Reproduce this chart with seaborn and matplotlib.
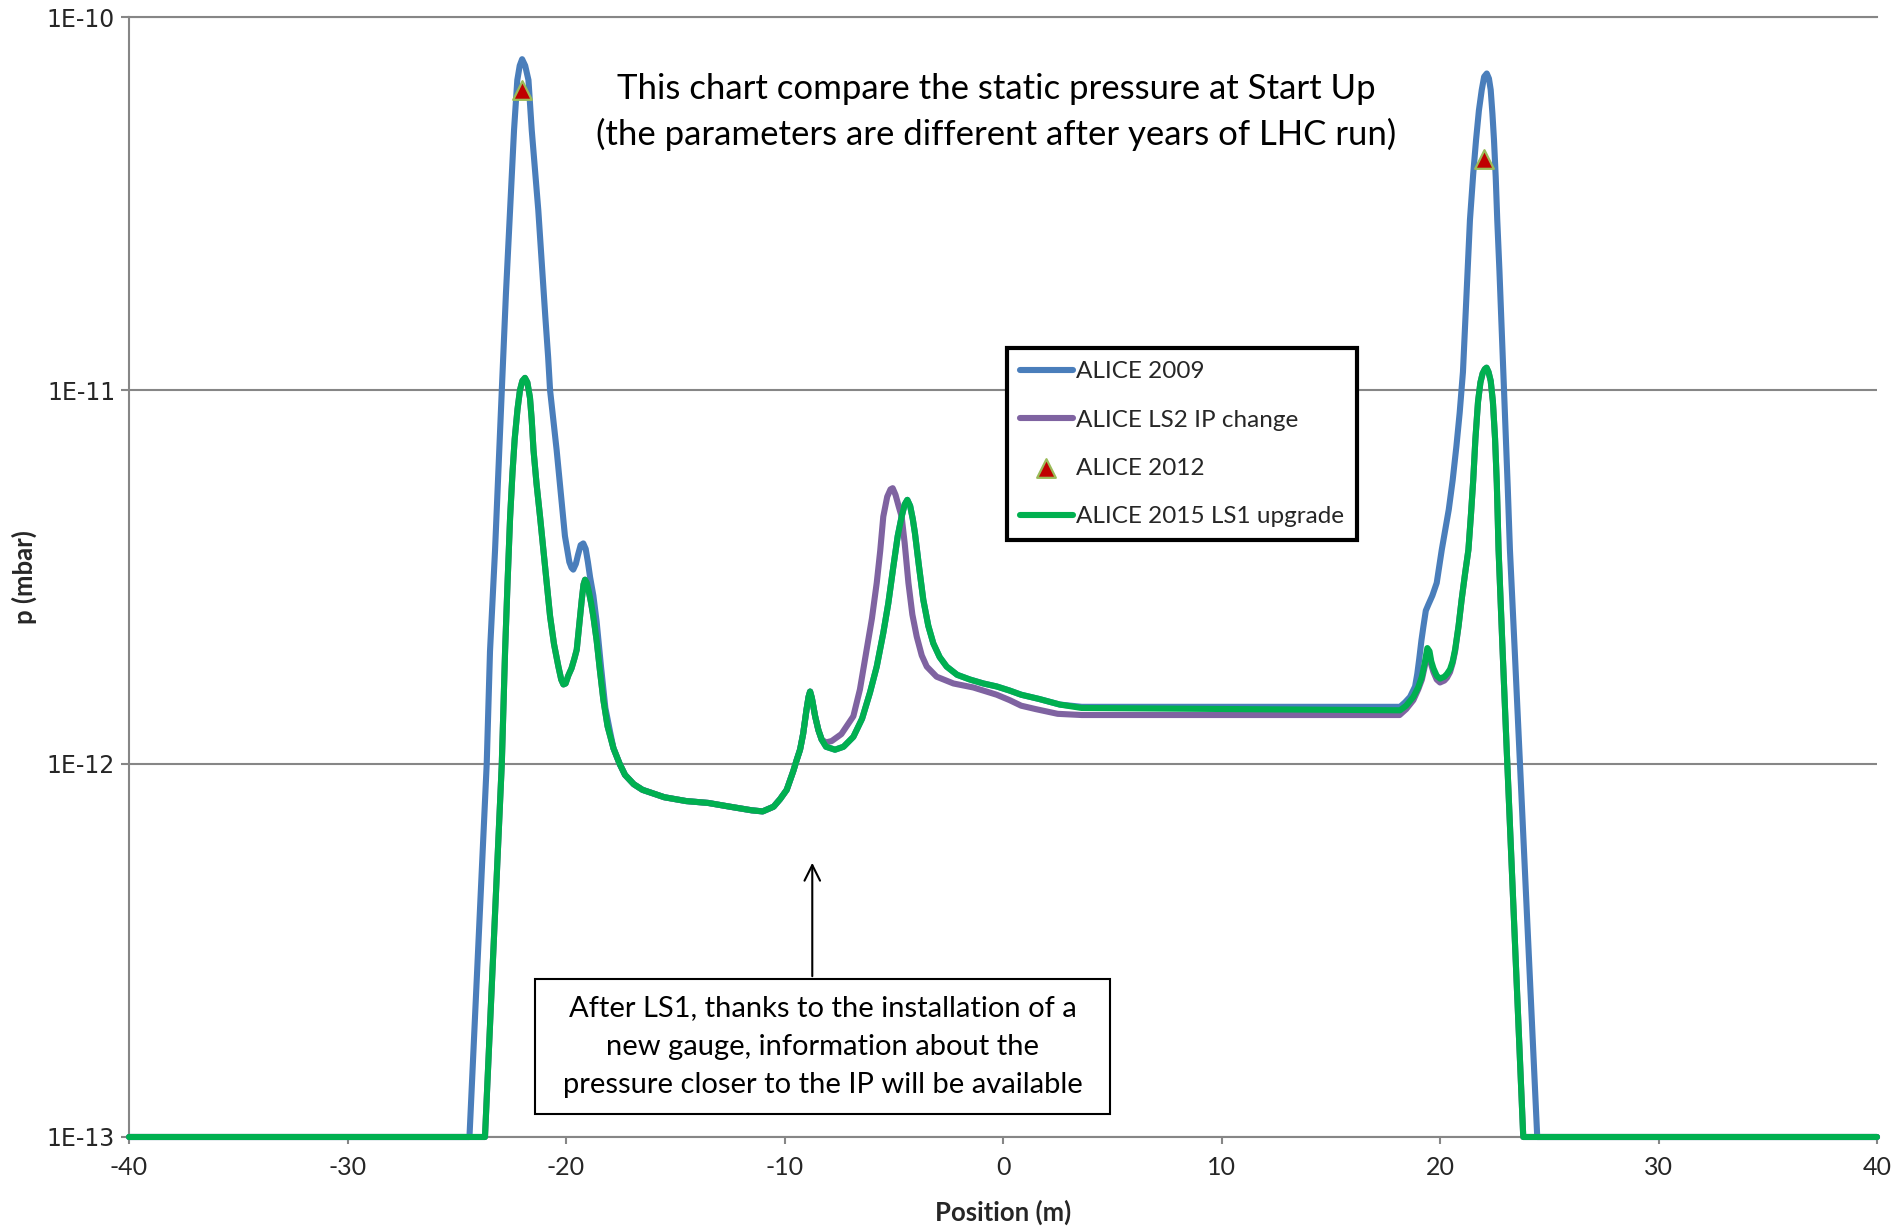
import numpy as np
import pandas as pd
import matplotlib
matplotlib.use('Agg')
import matplotlib.pyplot as plt
import seaborn as sns
from matplotlib.patches import Rectangle

sns.set_theme(style='white')
plt.rcParams['font.family'] = ['Lato', 'DejaVu Sans']
plt.rcParams['axes.unicode_minus'] = False

# ALICE 2009 (blue)
x_2009 = [-40, -24.42, -23.63, -23.48, -23.25, -23.1, -22.94, -22.75, -22.56, -22.45,
          -22.38, -22.3, -22.23, -22.12, -22.01, -21.87, -21.72, -21.65, -21.57, -21.42,
          -21.27, -21.1, -20.95, -20.82, -20.73, -20.6, -20.43, -20.25, -20.05, -19.85,
          -19.75, -19.67, -19.55, -19.45, -19.33, -19.21, -19.1, -19.0, -18.9, -18.75,
          -18.6, -18.4, -18.2, -18.0, -17.83, -17.55, -17.3, -16.9, -16.5, -15.5,
          -14.5, -13.5, -12.5, -11.5, -11.0, -10.5, -10.2, -9.9, -9.6, -9.45,
          -9.29, -9.15, -8.99, -8.9, -8.83, -8.75, -8.6, -8.45, -8.3, -8.1,
          -7.69, -7.3, -6.85, -6.45, -6.09, -5.78, -5.48, -5.25, -5.02, -4.82,
          -4.64, -4.5, -4.38, -4.25, -4.13, -4.03, -3.85, -3.65, -3.42, -3.19,
          -2.9, -2.58, -2.1, -1.51, -0.9, -0.29, 0.3, 0.83, 1.66, 2.6,
          3.6, 18.17, 18.4, 18.63, 18.86, 18.96, 19.05, 19.15, 19.24, 19.35,
          19.47, 19.65, 19.85, 20.08, 20.25, 20.4, 20.58, 20.75, 20.9, 21.05,
          21.2, 21.37, 21.52, 21.65, 21.78, 21.91, 22.02, 22.14, 22.24, 22.32,
          22.4, 22.47, 22.55, 22.62, 22.72, 22.8, 22.9, 23.0, 23.1, 23.2,
          23.43, 23.66, 24.45, 40]
p_2009 = [1e-13, 1e-13, 1e-12, 2.00e-12, 3.72e-12, 6.03e-12, 1e-11, 1.82e-11, 3.04e-11, 4.07e-11,
          4.98e-11, 5.89e-11, 6.78e-11, 7.41e-11, 7.71e-11, 7.41e-11, 6.78e-11, 5.89e-11, 4.98e-11, 3.89e-11,
          3.04e-11, 2.14e-11, 1.58e-11, 1.23e-11, 1e-11, 8.51e-12, 6.92e-12, 5.37e-12, 4.07e-12, 3.47e-12,
          3.35e-12, 3.31e-12, 3.43e-12, 3.63e-12, 3.85e-12, 3.89e-12, 3.76e-12, 3.47e-12, 3.16e-12, 2.82e-12,
          2.40e-12, 1.82e-12, 1.41e-12, 1.23e-12, 1.10e-12, 1.00e-12, 9.33e-13, 8.81e-13, 8.51e-13, 8.13e-13,
          7.94e-13, 7.85e-13, 7.67e-13, 7.50e-13, 7.45e-13, 7.67e-13, 8.04e-13, 8.51e-13, 9.55e-13, 1.02e-12,
          1.09e-12, 1.20e-12, 1.40e-12, 1.51e-12, 1.56e-12, 1.50e-12, 1.34e-12, 1.23e-12, 1.16e-12, 1.11e-12,
          1.09e-12, 1.11e-12, 1.18e-12, 1.32e-12, 1.55e-12, 1.82e-12, 2.24e-12, 2.69e-12, 3.37e-12, 4.07e-12,
          4.59e-12, 4.95e-12, 5.09e-12, 4.90e-12, 4.52e-12, 4.14e-12, 3.39e-12, 2.75e-12, 2.34e-12, 2.10e-12,
          1.93e-12, 1.82e-12, 1.73e-12, 1.68e-12, 1.64e-12, 1.61e-12, 1.57e-12, 1.53e-12, 1.49e-12, 1.44e-12,
          1.42e-12, 1.42e-12, 1.46e-12, 1.51e-12, 1.61e-12, 1.74e-12, 1.91e-12, 2.14e-12, 2.33e-12, 2.57e-12,
          2.67e-12, 2.82e-12, 3.05e-12, 3.74e-12, 4.27e-12, 4.79e-12, 5.75e-12, 7.08e-12, 8.71e-12, 1.12e-11,
          1.74e-11, 2.86e-11, 3.80e-11, 4.69e-11, 5.62e-11, 6.38e-11, 6.92e-11, 7.06e-11, 6.84e-11, 6.38e-11,
          5.50e-11, 4.69e-11, 3.72e-11, 2.86e-11, 2.09e-11, 1.58e-11, 1.12e-11, 7.94e-12, 5.50e-12, 3.74e-12,
          1.95e-12, 1e-12, 1e-13, 1e-13]

# ALICE LS2 IP change (purple)
x_ls2 = [-40, -23.71, -22.94, -22.79, -22.68, -22.56, -22.45, -22.35, -22.22, -22.11,
         -22.0, -21.88, -21.77, -21.65, -21.57, -21.49, -21.35, -21.19, -21.0, -20.85,
         -20.73, -20.55, -20.35, -20.22, -20.12, -20.02, -19.9, -19.75, -19.62, -19.51,
         -19.4, -19.28, -19.2, -19.13, -19.05, -18.95, -18.85, -18.75, -18.6, -18.45,
         -18.29, -18.1, -17.83, -17.55, -17.3, -16.9, -16.5, -15.5, -14.5, -13.5,
         -12.5, -11.5, -11.0, -10.5, -10.2, -9.9, -9.6, -9.45, -9.29, -9.15,
         -8.99, -8.9, -8.83, -8.75, -8.6, -8.45, -8.3, -8.1, -7.84, -7.4,
         -6.85, -6.55, -6.24, -6.0, -5.78, -5.62, -5.48, -5.3, -5.15, -5.05,
         -4.92, -4.78, -4.64, -4.5, -4.33, -4.15, -3.95, -3.72, -3.49, -3.04,
         -2.27, -1.36, -0.29, 0.3, 0.83, 1.5, 2.5, 3.6, 18.15, 18.45,
         18.78, 19.0, 19.17, 19.3, 19.42, 19.52, 19.6, 19.7, 19.85, 20.0,
         20.2, 20.32, 20.46, 20.58, 20.69, 20.85, 20.99, 21.15, 21.3, 21.42,
         21.52, 21.62, 21.74, 21.85, 21.95, 22.05, 22.13, 22.22, 22.32, 22.42,
         22.52, 22.6, 22.68, 22.86, 23.05, 23.81, 40]
p_ls2 = [1e-13, 1e-13, 1e-12, 2.0e-12, 3.02e-12, 4.57e-12, 6.03e-12, 7.41e-12, 8.91e-12, 1e-11,
         1.06e-11, 1.08e-11, 1.05e-11, 9.55e-12, 8.32e-12, 6.93e-12, 5.62e-12, 4.59e-12, 3.55e-12, 2.88e-12,
         2.48e-12, 2.09e-12, 1.82e-12, 1.68e-12, 1.63e-12, 1.64e-12, 1.72e-12, 1.80e-12, 1.91e-12, 2.02e-12,
         2.34e-12, 2.75e-12, 3.02e-12, 3.11e-12, 3.05e-12, 2.88e-12, 2.69e-12, 2.48e-12, 2.14e-12, 1.78e-12,
         1.48e-12, 1.26e-12, 1.10e-12, 1.00e-12, 9.33e-13, 8.81e-13, 8.51e-13, 8.13e-13, 7.94e-13, 7.85e-13,
         7.67e-13, 7.50e-13, 7.45e-13, 7.67e-13, 8.04e-13, 8.51e-13, 9.55e-13, 1.02e-12, 1.09e-12, 1.20e-12,
         1.40e-12, 1.51e-12, 1.56e-12, 1.50e-12, 1.34e-12, 1.23e-12, 1.16e-12, 1.14e-12, 1.15e-12, 1.20e-12,
         1.34e-12, 1.58e-12, 2.02e-12, 2.45e-12, 3.05e-12, 3.72e-12, 4.59e-12, 5.19e-12, 5.43e-12, 5.47e-12,
         5.25e-12, 4.90e-12, 4.59e-12, 3.89e-12, 3.05e-12, 2.51e-12, 2.19e-12, 1.95e-12, 1.82e-12, 1.71e-12,
         1.64e-12, 1.60e-12, 1.53e-12, 1.48e-12, 1.43e-12, 1.40e-12, 1.36e-12, 1.35e-12, 1.35e-12, 1.40e-12,
         1.48e-12, 1.58e-12, 1.68e-12, 1.82e-12, 2.00e-12, 1.95e-12, 1.84e-12, 1.76e-12, 1.68e-12, 1.65e-12,
         1.67e-12, 1.70e-12, 1.76e-12, 1.86e-12, 2.00e-12, 2.34e-12, 2.75e-12, 3.24e-12, 3.74e-12, 4.68e-12,
         5.75e-12, 7.41e-12, 9.33e-12, 1.05e-11, 1.11e-11, 1.14e-11, 1.15e-11, 1.12e-11, 1.06e-11, 9.33e-12,
         7.41e-12, 5.62e-12, 3.74e-12, 2.04e-12, 1.10e-12, 1e-13, 1e-13]

# ALICE 2012 (triangles)
x_2012 = [-22.01, 22.01]
p_2012 = [6.38e-11, 4.16e-11]

# ALICE 2015 LS1 upgrade (green)
x_2015 = [-40, -23.71, -22.94, -22.79, -22.68, -22.56, -22.45, -22.35, -22.22, -22.11,
          -22.0, -21.88, -21.77, -21.65, -21.57, -21.49, -21.35, -21.19, -21.0, -20.85,
          -20.73, -20.55, -20.35, -20.22, -20.12, -20.02, -19.9, -19.75, -19.62, -19.51,
          -19.4, -19.28, -19.2, -19.13, -19.05, -18.95, -18.85, -18.75, -18.6, -18.45,
          -18.29, -18.1, -17.83, -17.55, -17.3, -16.9, -16.5, -15.5, -14.5, -13.5,
          -12.5, -11.5, -11.0, -10.5, -10.2, -9.9, -9.6, -9.45, -9.29, -9.15,
          -8.99, -8.9, -8.83, -8.75, -8.6, -8.45, -8.3, -8.1, -7.69, -7.3,
          -6.85, -6.45, -6.09, -5.78, -5.48, -5.25, -5.02, -4.82, -4.64, -4.5,
          -4.38, -4.25, -4.13, -4.03, -3.85, -3.65, -3.42, -3.19, -2.9, -2.58,
          -2.1, -1.51, -0.9, -0.29, 0.3, 0.83, 1.66, 2.6, 3.6, 18.17,
          18.45, 18.78, 19.0, 19.17, 19.3, 19.42, 19.52, 19.6, 19.7, 19.85,
          20.0, 20.2, 20.32, 20.46, 20.58, 20.69, 20.85, 20.99, 21.15, 21.3,
          21.42, 21.52, 21.62, 21.74, 21.85, 21.95, 22.05, 22.13, 22.22, 22.32,
          22.42, 22.52, 22.6, 22.68, 22.86, 23.05, 23.81, 40]
p_2015 = [1e-13, 1e-13, 1e-12, 2.0e-12, 3.02e-12, 4.57e-12, 6.03e-12, 7.41e-12, 8.91e-12, 1e-11,
          1.06e-11, 1.08e-11, 1.05e-11, 9.55e-12, 8.32e-12, 6.93e-12, 5.62e-12, 4.59e-12, 3.55e-12, 2.88e-12,
          2.48e-12, 2.09e-12, 1.82e-12, 1.68e-12, 1.63e-12, 1.64e-12, 1.72e-12, 1.80e-12, 1.91e-12, 2.02e-12,
          2.34e-12, 2.75e-12, 3.02e-12, 3.11e-12, 3.05e-12, 2.88e-12, 2.69e-12, 2.48e-12, 2.14e-12, 1.78e-12,
          1.48e-12, 1.26e-12, 1.10e-12, 1.00e-12, 9.33e-13, 8.81e-13, 8.51e-13, 8.13e-13, 7.94e-13, 7.85e-13,
          7.67e-13, 7.50e-13, 7.45e-13, 7.67e-13, 8.04e-13, 8.51e-13, 9.55e-13, 1.02e-12, 1.09e-12, 1.20e-12,
          1.40e-12, 1.51e-12, 1.56e-12, 1.50e-12, 1.34e-12, 1.23e-12, 1.16e-12, 1.11e-12, 1.09e-12, 1.11e-12,
          1.18e-12, 1.32e-12, 1.55e-12, 1.82e-12, 2.24e-12, 2.69e-12, 3.37e-12, 4.07e-12, 4.59e-12, 4.95e-12,
          5.09e-12, 4.90e-12, 4.52e-12, 4.14e-12, 3.39e-12, 2.75e-12, 2.34e-12, 2.10e-12, 1.93e-12, 1.82e-12,
          1.73e-12, 1.68e-12, 1.64e-12, 1.61e-12, 1.57e-12, 1.53e-12, 1.49e-12, 1.44e-12, 1.41e-12, 1.39e-12,
          1.43e-12, 1.51e-12, 1.60e-12, 1.71e-12, 1.86e-12, 2.04e-12, 2.00e-12, 1.88e-12, 1.80e-12, 1.72e-12,
          1.69e-12, 1.71e-12, 1.74e-12, 1.79e-12, 1.88e-12, 2.02e-12, 2.34e-12, 2.75e-12, 3.24e-12, 3.74e-12,
          4.68e-12, 5.75e-12, 7.41e-12, 9.33e-12, 1.05e-11, 1.11e-11, 1.14e-11, 1.15e-11, 1.12e-11, 1.06e-11,
          9.33e-12, 7.41e-12, 5.62e-12, 3.74e-12, 2.04e-12, 1.10e-12, 1e-13, 1e-13]

x_ticks = [-40, -30, -20, -10, 0, 10, 20, 30, 40]
y_ticks = [1e-13, 1e-12, 1e-11, 1e-10]
y_tick_labels = ['1E-13', '1E-12', '1E-11', '1E-10']

title_text = 'This chart compare the static pressure at Start Up\n(the parameters are different after years of LHC run)'
note_text = 'After LS1, thanks to the installation of a\nnew gauge, information about the\npressure closer to the IP will be available'

c_blue = '#4A7EBB'
c_purple = '#7F63A1'
c_green = '#00B050'
grid_c = '#868686'

fig = plt.figure(figsize=(18.95, 12.26), dpi=100)
ax = fig.add_axes([0.0681, 0.0726, 0.9224, 0.9135])

lw = 4.4
line_kw = dict(estimator=None, sort=False, clip_on=False, solid_joinstyle='round', solid_capstyle='round')
sns.lineplot(x=x_2009, y=p_2009, ax=ax, color=c_blue, lw=lw, label='ALICE 2009', zorder=3, **line_kw)
sns.lineplot(x=x_ls2, y=p_ls2, ax=ax, color=c_purple, lw=lw, label='ALICE LS2 IP change', zorder=4, **line_kw)
sns.scatterplot(x=x_2012, y=p_2012, ax=ax, marker='^', s=180, color='#C00000',
                edgecolor='#9BBB59', linewidth=1.6, label='ALICE 2012', zorder=6)
sns.lineplot(x=x_2015, y=p_2015, ax=ax, color=c_green, lw=lw, label='ALICE 2015 LS1 upgrade', zorder=5, **line_kw)

ax.set_yscale('log')
ax.set_xlim(-40, 40)
ax.set_ylim(1e-13, 1e-10)
ax.set_xticks(x_ticks)
ax.set_xticklabels([str(v) for v in x_ticks])
ax.set_yticks(y_ticks)
ax.set_yticklabels(y_tick_labels)
ax.yaxis.set_minor_locator(matplotlib.ticker.NullLocator())

ax.yaxis.grid(True, color=grid_c, lw=1.5)
ax.xaxis.grid(False)
ax.set_axisbelow(True)
for side in ['left', 'bottom', 'top']:
    ax.spines[side].set_color(grid_c)
    ax.spines[side].set_linewidth(1.5)
ax.spines['right'].set_visible(False)

ax.tick_params(axis='both', which='major', direction='out', color=grid_c, width=1.5,
               left=True, bottom=True)
ax.tick_params(axis='y', length=6, pad=4, labelsize=17)
ax.tick_params(axis='x', length=5, pad=9, labelsize=18)
for t in ax.get_yticklabels():
    t.set_family('DejaVu Sans')

ax.set_xlabel('Position (m)', fontsize=18.5, fontweight='bold')
ax.set_ylabel('p (mbar)', fontsize=18.5, fontweight='bold')
ax.xaxis.set_label_coords(0.5, -0.056)
ax.yaxis.set_label_coords(-0.0526, 0.5)

h, l = ax.get_legend_handles_labels()
order = ['ALICE 2009', 'ALICE LS2 IP change', 'ALICE 2012', 'ALICE 2015 LS1 upgrade']
hh = [h[l.index(o)] for o in order]
leg = ax.legend(hh, order, loc='upper left', bbox_to_anchor=(1007 / 1895, 1 - 348 / 1226),
                bbox_transform=fig.transFigure, borderaxespad=0, fontsize=17.5,
                frameon=True, fancybox=False, framealpha=1, edgecolor='black',
                borderpad=0.55, handlelength=2.15, handletextpad=0.12, labelspacing=1.12)
leg.get_frame().set_linewidth(3)
leg.set_zorder(10)

fig.text(996.5 / 1895, 1 - 112 / 1226, title_text, ha='center', va='center',
         fontsize=25, linespacing=1.47, color='black')

ax.add_patch(Rectangle((0.2323, 0.0205), 0.5612 - 0.2323, 0.141 - 0.0205, transform=ax.transAxes,
                       facecolor='white', edgecolor='black', lw=1.5, zorder=7))
ax.text(0.3967, 0.0808, note_text, transform=ax.transAxes, ha='center', va='center',
        fontsize=21, linespacing=1.6, color='black', zorder=8)
ax.annotate('', xy=(-8.73, 5.52e-13), xytext=(-8.73, 2.65e-13),
            arrowprops=dict(arrowstyle='->', color='black', lw=1.5, mutation_scale=28), zorder=8)

fig.savefig('out.png', dpi=100)
